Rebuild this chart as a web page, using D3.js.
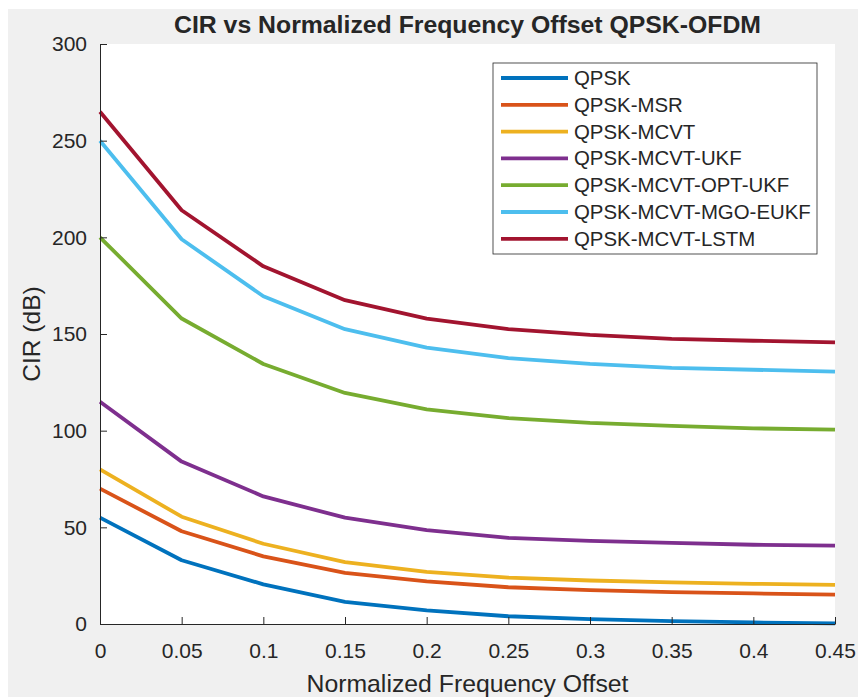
<!DOCTYPE html>
<html lang="en">

<head>
    <meta charset="UTF-8">
    <title>CIR vs Normalized Frequency Offset</title>
    <script src="https://cdn.jsdelivr.net/npm/d3@7/dist/d3.min.js"></script>
</head>
<style>
    * {
        margin: 0;
        padding: 0;
    }

    html,
    body {
        background: #fff;
        overflow: hidden;
    }

    svg {
        display: block;
    }

    text {
        font-family: "Liberation Sans", Arial, sans-serif;
        fill: #262626;
    }
</style>

<body>
    <svg></svg>
</body>

</html>
<script>
    // data
    const offsets = [0, 0.05, 0.1, 0.15, 0.2, 0.25, 0.3, 0.35, 0.4, 0.45];
    const names = ['QPSK', 'QPSK-MSR', 'QPSK-MCVT', 'QPSK-MCVT-UKF', 'QPSK-MCVT-OPT-UKF', 'QPSK-MCVT-MGO-EUKF', 'QPSK-MCVT-LSTM'];
    const colors = ['#0072BD', '#D95319', '#EDB120', '#7E2F8E', '#77AC30', '#4DBEEE', '#A2142F'];
    const qpsk = [55, 33, 20.5, 11.5, 7, 4, 2.5, 1.5, 0.8, 0.3];
    const qpskMsr = [70, 48, 35, 26.5, 22, 19, 17.5, 16.5, 15.8, 15.2];
    const qpskMcvt = [80, 55.5, 41.5, 32, 27, 24, 22.5, 21.5, 20.8, 20.2];
    const qpskUkf = [115, 84, 66, 55, 48.5, 44.5, 43, 42, 41, 40.5];
    const qpskOptUkf = [200, 158, 134.5, 119.5, 111, 106.5, 104, 102.5, 101.2, 100.5];
    const qpskMgoEukf = [250, 199, 169.5, 152.5, 143, 137.5, 134.5, 132.5, 131.5, 130.5];
    const qpskLstm = [265, 214, 185, 167.5, 158, 152.5, 149.5, 147.5, 146.5, 145.7];
    const xTicks = [0, 0.05, 0.1, 0.15, 0.2, 0.25, 0.3, 0.35, 0.4, 0.45];
    const yTicks = [0, 50, 100, 150, 200, 250, 300];

    const allSeries = [qpsk, qpskMsr, qpskMcvt, qpskUkf, qpskOptUkf, qpskMgoEukf, qpskLstm];

    const width = 858;
    const height = 697;
    const svg = d3.select('svg').attr('width', width).attr('height', height);
    const margin = { left: 100, top: 44, right: 23, bottom: 73 };
    const innerWidth = width - margin.left - margin.right;
    const innerHeight = height - margin.top - margin.bottom;

    // gray figure background (white strip on top and left)
    svg.append('rect').attr('x', 8).attr('y', 9).attr('width', width - 8).attr('height', height - 9).attr('fill', '#f0f0f0');
    svg.append('rect').attr('x', margin.left).attr('y', margin.top)
        .attr('width', innerWidth).attr('height', innerHeight).attr('fill', '#fff');

    const xScale = d3.scaleLinear().domain([0, 0.45]).range([margin.left, margin.left + innerWidth]);
    const yScale = d3.scaleLinear().domain([0, 300]).range([margin.top + innerHeight, margin.top]);

    // lines
    const line = d3.line().x((d, i) => xScale(offsets[i])).y(d => yScale(d));
    const lines = svg.append('g');
    allSeries.forEach((s, k) => {
        lines.append('path').datum(s)
            .attr('d', line)
            .attr('fill', 'none')
            .attr('stroke', colors[k])
            .attr('stroke-width', 3.8)
            .attr('stroke-linejoin', 'round');
    });

    // axes, matlab style ticks pointing in
    const xAxis = svg.append('g').attr('transform', `translate(0,${margin.top + innerHeight})`)
        .call(d3.axisBottom(xScale).tickValues(xTicks).tickSizeInner(-7).tickSizeOuter(0).tickPadding(14).tickFormat(d => d3.format('')(d)));
    const yAxis = svg.append('g').attr('transform', `translate(${margin.left},0)`)
        .call(d3.axisLeft(yScale).tickValues(yTicks).tickSizeInner(-7).tickSizeOuter(0).tickPadding(13));
    [xAxis, yAxis].forEach(a => {
        a.attr('font-family', null).attr('font-size', null);
        a.select('.domain').attr('stroke', '#262626');
        a.selectAll('.tick line').attr('stroke', '#262626');
        a.selectAll('text').attr('font-size', 21).attr('fill', '#262626');
    });
    xAxis.selectAll('text').attr('dy', 0).attr('y', 34);

    // title and labels
    svg.append('text').attr('x', margin.left + innerWidth / 2).attr('y', 33)
        .attr('text-anchor', 'middle').attr('font-size', 24.8).attr('font-weight', 'bold')
        .text('CIR vs Normalized Frequency Offset QPSK-OFDM');
    svg.append('text').attr('x', margin.left + innerWidth / 2).attr('y', 692)
        .attr('text-anchor', 'middle').attr('font-size', 24.8)
        .text('Normalized Frequency Offset');
    svg.append('text').attr('transform', `translate(40,${margin.top + innerHeight / 2}) rotate(-90)`)
        .attr('text-anchor', 'middle').attr('font-size', 24.5)
        .text('CIR (dB)');

    // legend
    const legend = svg.append('g').attr('transform', 'translate(493,63)');
    legend.append('rect').attr('width', 324).attr('height', 191)
        .attr('fill', '#fff').attr('stroke', '#262626').attr('stroke-width', 0.8);
    names.forEach((n, i) => {
        const row = legend.append('g').attr('transform', `translate(0,${15 + i * 26.8})`);
        row.append('line').attr('x1', 8).attr('x2', 75)
            .attr('stroke', colors[i]).attr('stroke-width', 3.8);
        row.append('text').attr('x', 81).attr('y', 7).attr('font-size', 20.4).text(n);
    });
</script>
